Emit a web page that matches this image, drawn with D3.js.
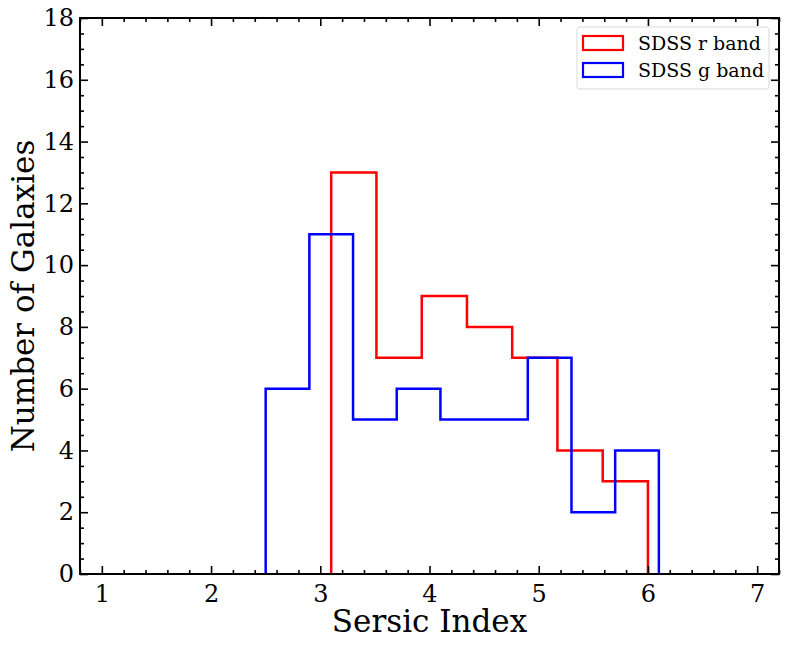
<!DOCTYPE html>
<html>
<head>
<meta charset="utf-8">
<script src="https://cdn.jsdelivr.net/npm/d3@7"></script>
<style>
  body { margin: 0; background: #fff; }
  svg text { font-family: "DejaVu Serif", serif; }
</style>
</head>
<body>
<div id="chart"></div>
<script>
// Histogram bin edges and counts
const rEdges = [3.1, 3.514, 3.929, 4.343, 4.757, 5.171, 5.586, 6.0];
const rCounts = [13, 7, 9, 8, 7, 4, 3];
const gEdges = [2.5, 2.9, 3.3, 3.7, 4.1, 4.5, 4.9, 5.3, 5.7, 6.1];
const gCounts = [6, 11, 5, 6, 5, 5, 7, 2, 4];
const xTicks = [1, 2, 3, 4, 5, 6, 7];
const yTicks = [0, 2, 4, 6, 8, 10, 12, 14, 16, 18];

const W = 788, H = 647;
const margin = {top: 18, right: 9, bottom: 73, left: 80};
const width = W - margin.left - margin.right;
const height = H - margin.top - margin.bottom;

const svg = d3.select("#chart").append("svg")
    .attr("width", W).attr("height", H);
const g = svg.append("g")
    .attr("transform", `translate(${margin.left},${margin.top})`);

const x = d3.scaleLinear().domain([0.8, 7.2]).range([0, width]);
const y = d3.scaleLinear().domain([0, 18]).range([height, 0]);

// step outline for a histogram
function stepPath(edges, counts) {
    const pts = [[edges[0], 0]];
    counts.forEach((c, i) => {
        pts.push([edges[i], c]);
        pts.push([edges[i + 1], c]);
    });
    pts.push([edges[edges.length - 1], 0]);
    return d3.line().x(d => x(d[0])).y(d => y(d[1]))(pts);
}

g.append("path")
    .attr("d", stepPath(rEdges, rCounts))
    .attr("fill", "none")
    .attr("stroke", "#ff0000")
    .attr("stroke-width", 2.5);

g.append("path")
    .attr("d", stepPath(gEdges, gCounts))
    .attr("fill", "none")
    .attr("stroke", "#0000ff")
    .attr("stroke-width", 2.5);

// Axes with inward ticks on all sides
const xMinor = d3.range(0.8, 7.21, 0.2).filter(v => Math.abs(v - Math.round(v)) > 1e-6);
const yMinor = d3.range(0, 18.01, 0.5).filter(v => Math.abs(v / 2 - Math.round(v / 2)) > 1e-6);

function styleAxis(sel) {
    sel.select(".domain").remove();
    sel.selectAll("line").attr("stroke", "#000").attr("stroke-width", 1.6);
    sel.selectAll("text").attr("fill", "#000").style("font-size", "24px");
}

g.append("g").attr("transform", `translate(0,${height})`)
    .call(d3.axisBottom(x).tickValues(xTicks).tickSize(-8).tickPadding(11).tickFormat(d3.format("d")))
    .call(styleAxis);
g.append("g").attr("transform", `translate(0,${height})`)
    .call(d3.axisBottom(x).tickValues(xMinor).tickSize(-4).tickFormat(""))
    .call(styleAxis);
g.append("g")
    .call(d3.axisTop(x).tickValues(xTicks).tickSize(-8).tickFormat(""))
    .call(styleAxis);
g.append("g")
    .call(d3.axisTop(x).tickValues(xMinor).tickSize(-4).tickFormat(""))
    .call(styleAxis);

g.append("g")
    .call(d3.axisLeft(y).tickValues(yTicks).tickSize(-8).tickPadding(6))
    .call(styleAxis);
g.append("g")
    .call(d3.axisLeft(y).tickValues(yMinor).tickSize(-4).tickFormat(""))
    .call(styleAxis);
g.append("g").attr("transform", `translate(${width},0)`)
    .call(d3.axisRight(y).tickValues(yTicks).tickSize(-8).tickFormat(""))
    .call(styleAxis);
g.append("g").attr("transform", `translate(${width},0)`)
    .call(d3.axisRight(y).tickValues(yMinor).tickSize(-4).tickFormat(""))
    .call(styleAxis);

// frame
g.append("rect")
    .attr("width", width).attr("height", height)
    .attr("fill", "none").attr("stroke", "#000").attr("stroke-width", 2);

// Axis labels
g.append("text")
    .attr("x", width / 2).attr("y", height + 58)
    .attr("text-anchor", "middle")
    .style("font-size", "31px")
    .text("Sersic Index");

g.append("text")
    .attr("transform", `translate(${-46},${height / 2}) rotate(-90)`)
    .attr("text-anchor", "middle")
    .style("font-size", "31px")
    .text("Number of Galaxies");

// Legend
const legend = g.append("g").attr("transform", `translate(${width - 202},${9})`);
legend.append("rect")
    .attr("width", 192).attr("height", 62).attr("rx", 3)
    .attr("fill", "#fff").attr("stroke", "#d9d9d9").attr("stroke-width", 1);
const items = [["SDSS r band", "#ff0000"], ["SDSS g band", "#0000ff"]];
items.forEach(([label, col], i) => {
    legend.append("rect")
        .attr("x", 6).attr("y", 9 + i * 27)
        .attr("width", 40).attr("height", 14)
        .attr("fill", "none").attr("stroke", col).attr("stroke-width", 2.2);
    legend.append("text")
        .attr("x", 61).attr("y", 23 + i * 27)
        .style("font-size", "19px")
        .text(label);
});
</script>
</body>
</html>
